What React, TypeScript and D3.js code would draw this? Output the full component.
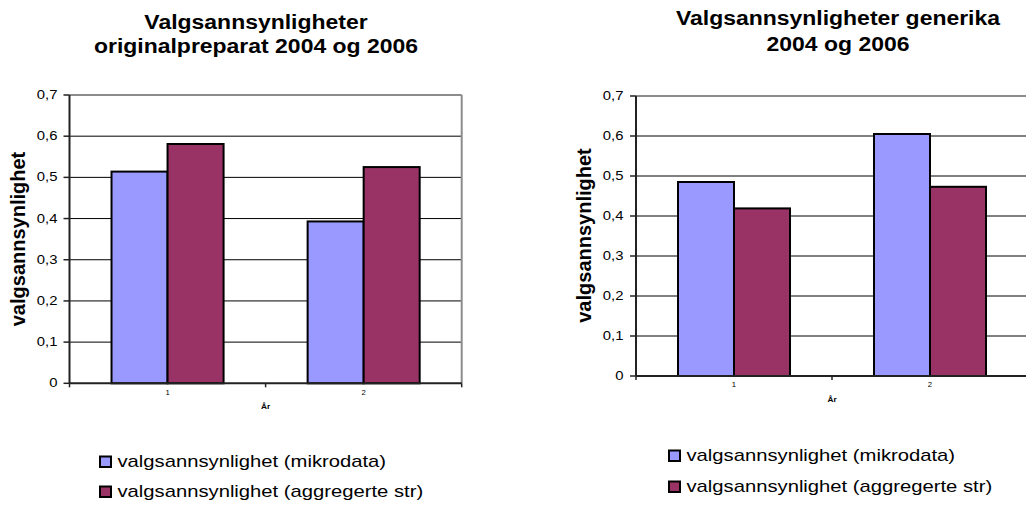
import React from "react";
import * as d3 from "d3";

const categories = ["1", "2"];
const seriesNames = ["valgsannsynlighet (mikrodata)", "valgsannsynlighet (aggregerte str)"];
const seriesColors = ["#9999FF", "#993366"];
const originalMikro = [0.514, 0.393];
const originalAggr = [0.581, 0.525];
const generikaMikro = [0.485, 0.605];
const generikaAggr = [0.419, 0.473];
const yTicks = [0, 0.1, 0.2, 0.3, 0.4, 0.5, 0.6, 0.7];
const yTickLabels = ["0", "0,1", "0,2", "0,3", "0,4", "0,5", "0,6", "0,7"];
const xAxisTitle = "År";
const yAxisTitle = "valgsannsynlighet";
const titleOriginal = ["Valgsannsynligheter", "originalpreparat 2004 og 2006"];
const titleGenerika = ["Valgsannsynligheter generika", "2004 og 2006"];

const FONT = "'Liberation Sans', Arial, Helvetica, sans-serif";
const SX = 1.19;

type Layout = {
  left: number; right: number; top: number; bottom: number;
  titleX: number; titleY: number[]; titleSize: number;
  yTitleX: number; yTitleY: number;
  tickLabelRight: number;
  catLabelY: number; xTitleY: number;
  legendX: number; legendY: number[];
};

function HText(props: { x: number; y: number; size: number; bold?: boolean; anchor?: string; children: string; baseline?: string }) {
  const { x, y, size, bold, anchor, children, baseline } = props;
  return (
    <g transform={`translate(${x},${y}) scale(${SX},1)`}>
      <text
        x={0}
        y={0}
        fontSize={size}
        fontWeight={bold ? "bold" : "normal"}
        fontFamily={FONT}
        textAnchor={anchor || "start"}
        dominantBaseline={baseline || "alphabetic"}
        fill="#000"
      >
        {children}
      </text>
    </g>
  );
}

function Chart({ layout, title, series }: { layout: Layout; title: string[]; series: number[][] }) {
  const L = layout;
  const x0 = d3.scaleBand<string>().domain(categories).range([L.left, L.right]).paddingInner(0).paddingOuter(0);
  const x1 = d3.scaleBand<string>().domain(seriesNames).range([0, x0.bandwidth()]).paddingInner(0).paddingOuter(0.75);
  const y = d3.scaleLinear().domain([0, 0.7]).range([L.bottom, L.top]);
  const boundaries = [L.left, ...categories.map((c) => (x0(c) as number) + x0.bandwidth())];

  return (
    <g>
      {title.map((t, i) => (
        <HText key={i} x={L.titleX} y={L.titleY[i]} size={L.titleSize} bold anchor="middle">{t}</HText>
      ))}
      {yTicks.slice(1, -1).map((t) => (
        <line key={t} x1={L.left} x2={L.right} y1={y(t)} y2={y(t)} stroke="#000" strokeWidth={1} />
      ))}
      <line x1={L.left} x2={L.right} y1={y(0.7)} y2={y(0.7)} stroke="#8c8c8c" strokeWidth={2} />
      <line x1={L.right} x2={L.right} y1={L.top} y2={L.bottom} stroke="#8c8c8c" strokeWidth={2} />
      {categories.map((c, ci) => (
        <g key={c}>
          {seriesNames.map((s, si) => {
            const bx = (x0(c) as number) + (x1(s) as number);
            const v = series[si][ci];
            return (
              <rect
                key={s}
                x={bx}
                y={y(v)}
                width={x1.bandwidth()}
                height={y(0) - y(v)}
                fill={seriesColors[si]}
                stroke="#000"
                strokeWidth={2}
              />
            );
          })}
        </g>
      ))}
      <line x1={L.left} x2={L.left} y1={L.top} y2={L.bottom} stroke="#222" strokeWidth={2} />
      <line x1={L.left} x2={L.right} y1={L.bottom} y2={L.bottom} stroke="#222" strokeWidth={2} />
      {yTicks.map((t, i) => (
        <g key={t}>
          <line x1={L.left - 6} x2={L.left} y1={y(t)} y2={y(t)} stroke="#222" strokeWidth={1.5} />
          <HText x={L.tickLabelRight} y={y(t)} size={12.5} anchor="end" baseline="central">{yTickLabels[i]}</HText>
        </g>
      ))}
      {boundaries.map((bx, i) => (
        <line key={i} x1={bx} x2={bx} y1={L.bottom} y2={L.bottom + 4} stroke="#222" strokeWidth={1.5} />
      ))}
      {categories.map((c) => (
        <HText key={c} x={(x0(c) as number) + x0.bandwidth() / 2} y={L.catLabelY} size={6.5} anchor="middle" baseline="central">{c}</HText>
      ))}
      <HText x={(L.left + L.right) / 2} y={L.xTitleY} size={7} bold anchor="middle" baseline="central">{xAxisTitle}</HText>
      <g transform={`translate(${L.yTitleX},${L.yTitleY}) rotate(-90)`}>
        <text x={0} y={0} fontSize={20} fontWeight="bold" fontFamily={FONT} textAnchor="middle" dominantBaseline="central" fill="#000">
          {yAxisTitle}
        </text>
      </g>
      {seriesNames.map((s, si) => (
        <g key={s}>
          <rect x={L.legendX} y={L.legendY[si] - 10.5} width={11} height={10.5} fill={seriesColors[si]} stroke="#000" strokeWidth={2} />
          <HText x={L.legendX + 17.5} y={L.legendY[si]} size={17}>{s}</HText>
        </g>
      ))}
    </g>
  );
}

const leftLayout: Layout = {
  left: 69.5, right: 461.7, top: 95, bottom: 383.3,
  titleX: 256, titleY: [29, 53], titleSize: 19.3,
  yTitleX: 18, yTitleY: 239,
  tickLabelRight: 57.5,
  catLabelY: 393, xTitleY: 406.5,
  legendX: 100, legendY: [467, 497],
};

const rightLayout: Layout = {
  left: 636, right: 1028, top: 96, bottom: 376,
  titleX: 838, titleY: [25, 51], titleSize: 19.3,
  yTitleX: 584, yTitleY: 235.5,
  tickLabelRight: 623.5,
  catLabelY: 385, xTitleY: 399.5,
  legendX: 669, legendY: [461, 492],
};

export default function App() {
  return (
    <svg
      width={1026}
      height={506}
      viewBox="0 0 1026 506"
      style={{ position: "absolute", left: 0, top: 0, display: "block", background: "#fff" }}
    >
      <rect x={0} y={0} width={1026} height={506} fill="#fff" />
      <Chart layout={leftLayout} title={titleOriginal} series={[originalMikro, originalAggr]} />
      <Chart layout={rightLayout} title={titleGenerika} series={[generikaMikro, generikaAggr]} />
    </svg>
  );
}
